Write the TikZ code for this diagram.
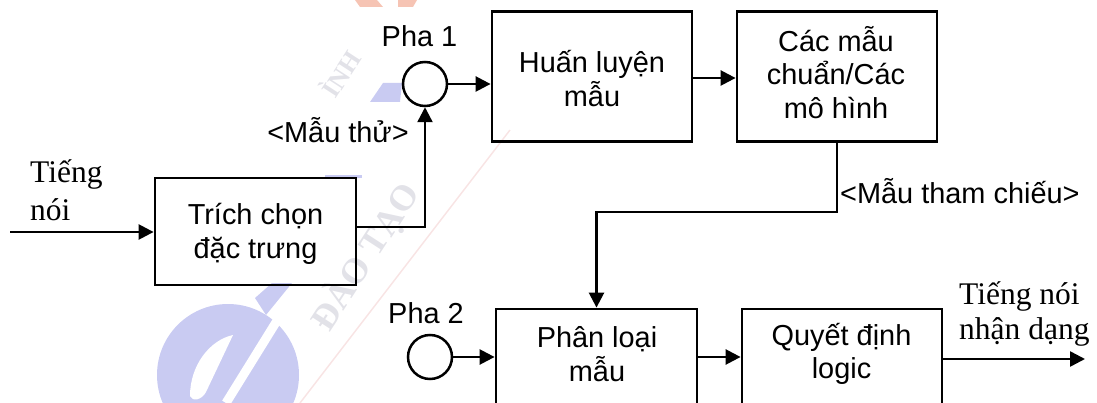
\documentclass[tikz,border=0pt]{standalone}
\usepackage{fontspec}
\setmainfont{Liberation Sans}
\newfontfamily\serifvn{Liberation Serif}
\usetikzlibrary{arrows.meta}
\definecolor{wmblue}{HTML}{C9CBF2}
\definecolor{wmgrey}{HTML}{E2E2E8}
\definecolor{wmred}{HTML}{F6C4B4}
\definecolor{wmpink}{HTML}{F8E4E4}
\tikzset{
  boxnode/.style={draw=black,line width=2.8pt,rectangle,inner sep=0pt,align=center},
  lab/.style={inner sep=0pt,align=center,font=\fontsize{28.9}{33.5}\selectfont},
  serlab/.style={inner sep=0pt,align=left,font=\serifvn\fontsize{31.5}{38}\selectfont},
  serlabb/.style={inner sep=0pt,align=left,font=\serifvn\fontsize{31.5}{35.5}\selectfont},
  wmtext/.style={inner sep=0pt,text=wmgrey,font=\serifvn\bfseries\fontsize{36}{36}\selectfont},
  phase/.style={draw=black,line width=2.5pt,circle,minimum size=44pt,inner sep=0pt},
  conn/.style={line width=2.5pt,-{Triangle[length=15pt,width=15pt]}},
}
\begin{document}
\begin{tikzpicture}[x=1pt,y=-1pt]
\useasboundingbox (0,0) rectangle (1097,403);
\clip (0,0) rectangle (1097,403);
% watermark
\fill[wmred] (355,0) -- (377,0) -- (383,7) -- (360,7) -- cycle;
\fill[wmred] (398,0) -- (417,0) -- (413,7) -- (398,7) -- cycle;
\fill[wmblue] (370,102) -- (383,83) -- (402,83) -- (400,102) -- cycle;
\fill[wmblue] (325,175) rectangle (362,178);
\draw[wmpink,line width=1.5pt] (300,403) -- (510,130);
\fill[wmblue] (228,375) circle (71);
\fill[wmblue] (255,298) -- (272,283) -- (292,283) -- (266,315) -- cycle;
\fill[white] (190,396) .. controls (190,365) and (210,340) .. (233,335) -- (206,392) .. controls (202,400) and (192,402) .. (190,396) -- cycle;
\draw[white,line width=9pt] (296,290) -- (226,403);
\node[wmtext,rotate=57] (wm1) at (365,257) {ĐÀO TẠO};
\node[wmtext,rotate=57,font=\serifvn\bfseries\fontsize{26}{26}\selectfont] (wm2) at (340,73) {ÌNH};
% boxes
\node[boxnode,minimum width=201pt,minimum height=107pt] (tc) at (255.5,231.5) {};
\node[boxnode,minimum width=200pt,minimum height=130pt] (hl) at (592,76.5) {};
\node[boxnode,minimum width=200pt,minimum height=130pt] (cm) at (837,76.5) {};
\node[boxnode,minimum width=201pt,minimum height=130pt] (pl) at (596.5,374) {};
\node[boxnode,minimum width=200pt,minimum height=130pt] (qd) at (842,374) {};
\node[phase] (p1) at (425,84) {};
\node[phase] (p2) at (430,357) {};
% texts in boxes
\node[lab] (ttc) at (255.5,234) {Trích chọn\\đặc trưng};
\node[lab] (thl) at (592,78.5) {Huấn luyện\\mẫu};
\node[lab] (tcm) at (836,72.5) {Các mẫu\\chuẩn/Các\\mô hình};
\node[lab] (tpl) at (597,354) {Phân loại\\mẫu};
\node[lab] (tqd) at (841.5,354) {Quyết định\\logic};
% labels
\node[lab] (lp1) at (419.5,36) {Pha 1};
\node[lab] (lp2) at (426,313) {Pha 2};
\node[lab] (lmt) at (338,130) {<Mẫu thử>};
\node[lab,anchor=west] (lmc) at (840,191) {<Mẫu tham chiếu>};
\node[serlab,anchor=north west] (lin) at (30,159) {Tiếng\\nói};
\node[serlabb,anchor=north west] (lout) at (959,281) {Tiếng nói\\nhận dạng};
% connectors
\coordinate (start) at (10,232);
\coordinate (stop) at (1085,359);
\draw[conn] (start) -- (start -| tc.west);
\draw[conn] (tc.east |- 0,227) -| (p1.south);
\draw[conn] (p1.east) -- (p1.east -| hl.west);
\draw[conn] (hl.east |- 0,78) -- (cm.west |- 0,78);
\draw[conn] (cm.south) -- (cm.south |- 0,212) -| (pl.north);
\draw[conn] (p2.east) -- (p2.east -| pl.west);
\draw[conn] (pl.east |- 0,357) -- (qd.west |- 0,357);
\draw[conn] (qd.east |- stop) -- (stop);
\end{tikzpicture}
\end{document}
